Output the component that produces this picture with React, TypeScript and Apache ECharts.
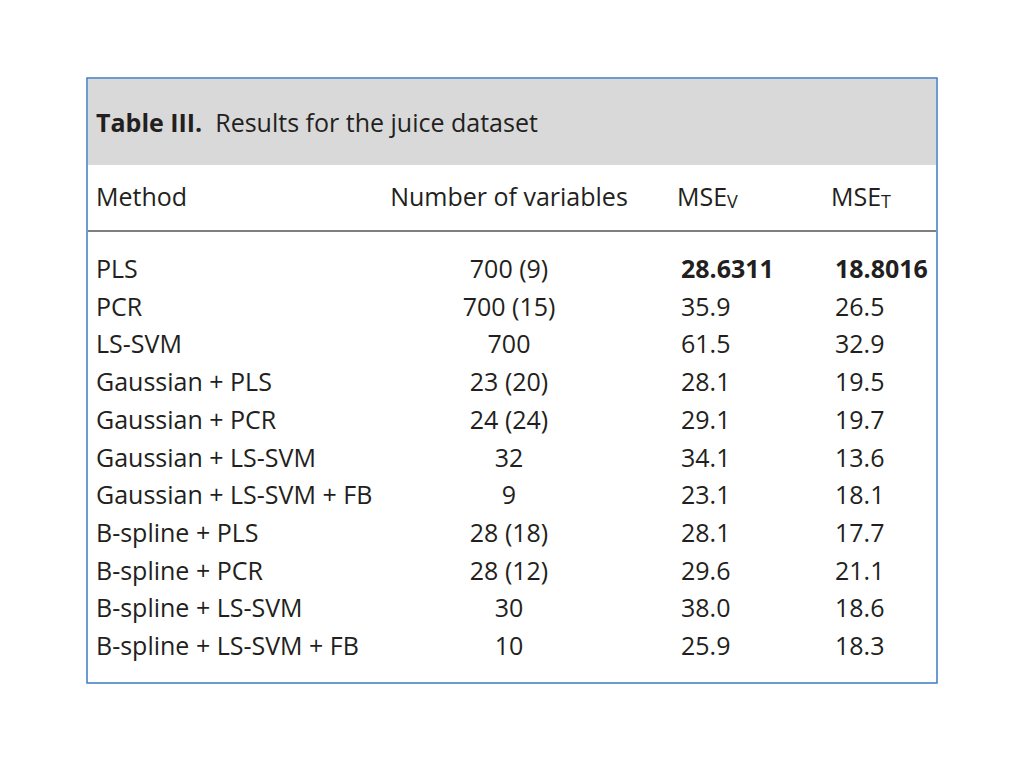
import React, { useEffect, useRef } from "react";
import * as echarts from "echarts";

const title = "Results for the juice dataset";
const titleLabel = "Table III.";
const headers = ["Method", "Number of variables", "MSE{sub|V}", "MSE{sub|T}"];
const methods = [
  "PLS",
  "PCR",
  "LS-SVM",
  "Gaussian + PLS",
  "Gaussian + PCR",
  "Gaussian + LS-SVM",
  "Gaussian + LS-SVM + FB",
  "B-spline + PLS",
  "B-spline + PCR",
  "B-spline + LS-SVM",
  "B-spline + LS-SVM + FB",
];
const numVariables = [
  "700 (9)",
  "700 (15)",
  "700",
  "23 (20)",
  "24 (24)",
  "32",
  "9",
  "28 (18)",
  "28 (12)",
  "30",
  "10",
];
const mseV = ["28.6311", "35.9", "61.5", "28.1", "29.1", "34.1", "23.1", "28.1", "29.6", "38.0", "25.9"];
const mseT = ["18.8016", "26.5", "32.9", "19.5", "19.7", "13.6", "18.1", "17.7", "21.1", "18.6", "18.3"];
const boldRows = [0];

const FONT = "'Open Sans', 'Noto Sans', sans-serif";

export default function App() {
  const ref = useRef<HTMLDivElement>(null);
  useEffect(() => {
    if (!ref.current) return;
    const chart = echarts.init(ref.current, undefined, { renderer: "svg" });
    const left = 87, top = 78, right = 937, bottom = 683;
    const rowTop = 268, rowStep = 37.7;
    const fs = 25;
    const colX = [96, 509, 677, 831];
    const elements: any[] = [];
    elements.push({
      type: "rect",
      shape: { x: left, y: top, width: right - left, height: bottom - top },
      style: { fill: "#ffffff", stroke: "#3d7cc0", lineWidth: 1.5 },
      z: 0,
    });
    elements.push({
      type: "rect",
      shape: { x: left + 1, y: top + 1, width: right - left - 2, height: 86 },
      style: { fill: "#d9d9d9" },
      z: 1,
    });
    elements.push({
      type: "line",
      shape: { x1: left + 1, y1: 231, x2: right - 1, y2: 231 },
      style: { stroke: "#555555", lineWidth: 1.5 },
      z: 2,
    });
    elements.push({
      type: "text",
      x: 96,
      y: 122,
      style: {
        text: "{b|" + titleLabel + "}  " + title,
        font: `${fs}px ${FONT}`,
        fill: "#231f20",
        verticalAlign: "middle",
        rich: { b: { fontWeight: "bold", fontSize: fs, fontFamily: FONT, fill: "#231f20" } },
      },
      z: 3,
    });
    headers.forEach((h, i) => {
      elements.push({
        type: "text",
        x: colX[i],
        y: 196,
        style: {
          text: h,
          font: `${fs}px ${FONT}`,
          fill: "#231f20",
          align: i === 1 ? "center" : "left",
          verticalAlign: "middle",
          rich: { sub: { fontSize: 18, fontFamily: FONT, fill: "#231f20", padding: [10, 0, 0, 0] } },
        },
        z: 3,
      });
    });
    methods.forEach((m, r) => {
      const y = rowTop + r * rowStep;
      const bold = boldRows.includes(r);
      const cells = [m, numVariables[r], mseV[r], mseT[r]];
      const xs = [96, 509, 681, 835];
      cells.forEach((c, i) => {
        elements.push({
          type: "text",
          x: xs[i],
          y,
          style: {
            text: c,
            font: `${bold && i >= 2 ? "bold " : ""}${fs}px ${FONT}`,
            fill: "#231f20",
            align: i === 1 ? "center" : "left",
            verticalAlign: "middle",
          },
          z: 3,
        });
      });
    });
    chart.setOption({ animation: false, graphic: { elements } });
    return () => chart.dispose();
  }, []);
  return (
    <div
      ref={ref}
      style={{ position: "fixed", left: 0, top: 0, width: 1024, height: 768, background: "#ffffff" }}
    />
  );
}
